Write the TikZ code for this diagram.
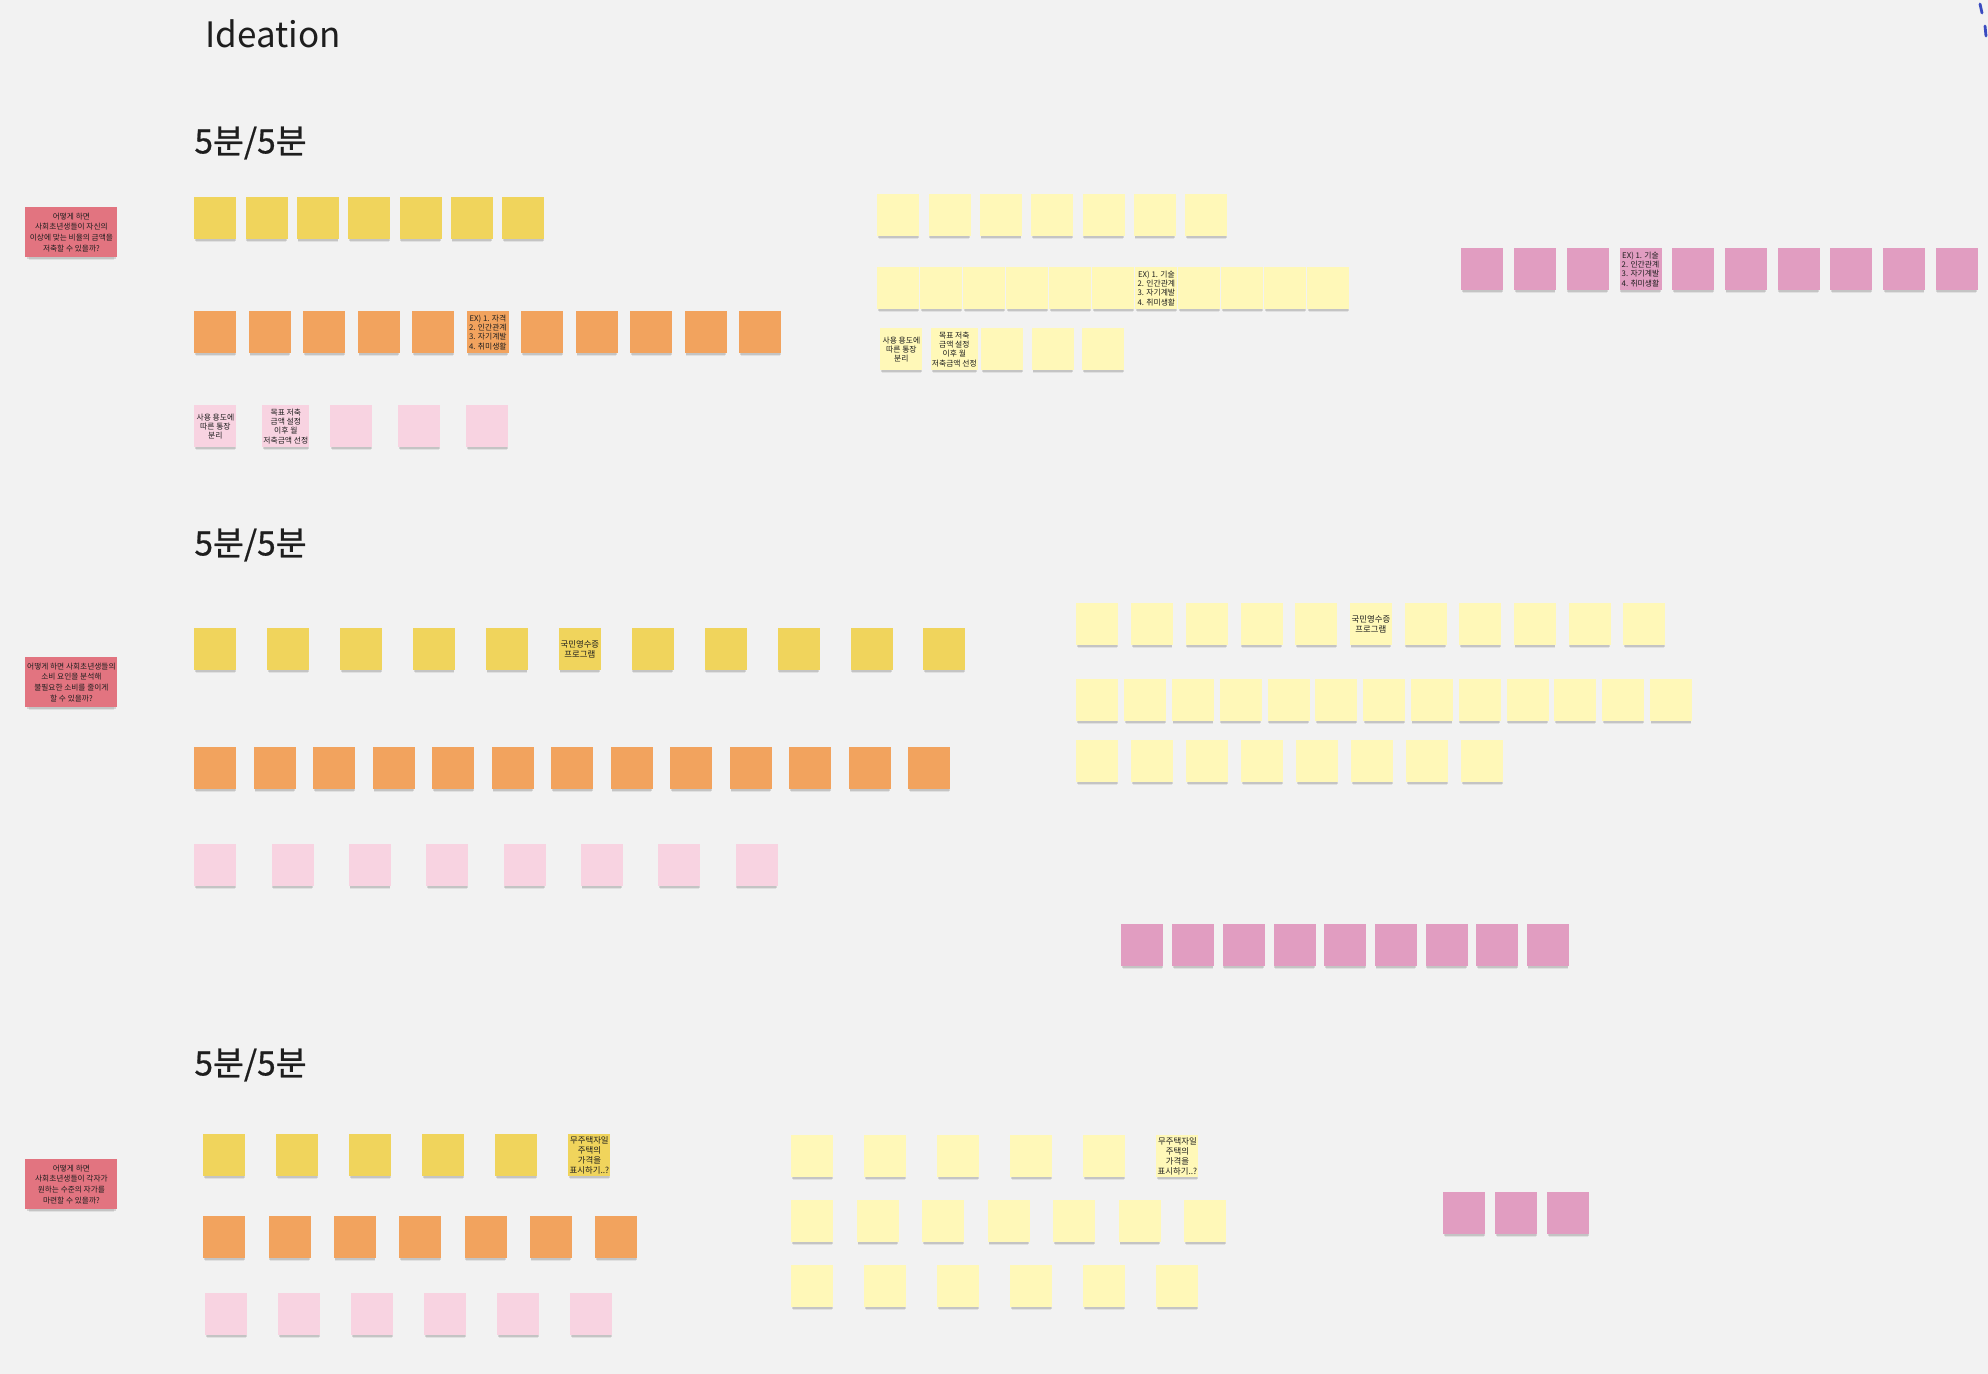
\documentclass[tikz,border=0pt]{standalone}
\usepackage{fontspec}
\setmainfont{Noto Sans CJK KR}
\newfontfamily\headfont[FakeBold=0.6]{Noto Sans CJK KR}
\usetikzlibrary{shadows}
\definecolor{board}{HTML}{F2F2F2}
\definecolor{pen}{HTML}{1E1E1E}
\definecolor{ylw}{HTML}{F0D45C}
\definecolor{orng}{HTML}{F2A35E}
\definecolor{pnkl}{HTML}{F8D3E1}
\definecolor{ylwl}{HTML}{FFF8B8}
\definecolor{rose}{HTML}{E27480}
\definecolor{mauve}{HTML}{E19DC1}
\definecolor{cursorb}{HTML}{3A4BC0}
\tikzset{pad/.style={anchor=north west, minimum width=21pt, minimum height=21pt, inner sep=0.5pt, align=center, text=pen,
    font=\fontsize{3.9}{4.6}\selectfont,
    drop shadow={shadow xshift=0pt, shadow yshift=-2.2pt, shadow scale=0.93, opacity=0.07, fill=black},
    drop shadow={shadow xshift=0pt, shadow yshift=-1.2pt, shadow scale=0.97, opacity=0.12, fill=black}},
  qpad/.style={pad, minimum width=46pt, minimum height=25pt, fill=rose, font=\fontsize{3.85}{5.3}\selectfont},
  head/.style={anchor=west, inner sep=0pt, text=pen, font=\headfont\fontsize{16.8}{18}\selectfont}}

\begin{document}
\begin{tikzpicture}[x=0.5pt, y=-0.5pt]
  \fill[board] (0,0) rectangle (1988,1374);
  \useasboundingbox (0,0) rectangle (1988,1374);
  \node[anchor=west, inner sep=0pt, text=pen, font=\fontsize{17.5}{20}\selectfont] (ttl) at (205,34) {Ideation};
  \draw[cursorb, line width=1.4pt, line cap=round] (1980,4)--(1982,13) (1985,26)--(1986,36);
  % 1
  \node[head] (h1) at (194,143) {5분/5분};
  \node[qpad] (q1) at (25,207) {어떻게 하면\\사회초년생들이 자신의\\이상에 맞는 비율의 금액을\\저축할 수 있을까?};
  \foreach \i in {0,...,6}{\node[pad, fill=ylw] (a1y\i) at ({194+51.3*\i},197) {};}
  \foreach \i in {0,...,4,6,7,8,9,10}{\node[pad, fill=orng] (a1o\i) at ({194+54.5*\i},311) {};}
  \node[pad, fill=orng] (a1o5) at ({194+54.5*5},311) {EX) 1. 자격\\2. 인간관계\\3. 자기계발\\4. 취미생활};
  \node[pad, fill=pnkl] (a1p0) at (194,405) {사용 용도에\\따른 통장\\분리};
  \node[pad, fill=pnkl] (a1p1) at (262,405) {목표 저축\\금액 설정\\이후 월\\저축금액 선정};
  \foreach \i in {2,3,4}{\node[pad, fill=pnkl] (a1p\i) at ({194+68*\i},405) {};}
  \foreach \i in {0,...,6}{\node[pad, fill=ylwl] (b1a\i) at ({877+51.3*\i},194) {};}
  \foreach \i in {0,...,5,7,8,9,10}{\node[pad, fill=ylwl] (b1b\i) at ({877+43*\i},267) {};}
  \node[pad, fill=ylwl] (b1b6) at ({877+43*6},267) {EX) 1. 기술\\2. 인간관계\\3. 자기계발\\4. 취미생활};
  \node[pad, fill=ylwl] (b1c0) at (880,328) {사용 용도에\\따른 통장\\분리};
  \node[pad, fill=ylwl] (b1c1) at (930.5,328) {목표 저축\\금액 설정\\이후 월\\저축금액 선정};
  \foreach \i in {2,3,4}{\node[pad, fill=ylwl] (b1c\i) at ({880+50.5*\i},328) {};}
  \foreach \i in {0,1,2,4,5,...,9}{\node[pad, fill=mauve] (c1m\i) at ({1461+52.7*\i},248) {};}
  \node[pad, fill=mauve] (c1m3) at ({1461+52.7*3},248) {EX) 1. 기술\\2. 인간관계\\3. 자기계발\\4. 취미생활};
  % 2
  \node[head] (h2) at (194,545) {5분/5분};
  \node[qpad] (q2) at (25,657) {어떻게 하면 사회초년생들의\\소비 요인을 분석해\\불필요한 소비를 줄이게\\할 수 있을까?};
  \foreach \i in {0,...,4,6,7,...,10}{\node[pad, fill=ylw] (a2y\i) at ({194+72.9*\i},628) {};}
  \node[pad, fill=ylw, font=\fontsize{4.2}{5}\selectfont] (a2y5) at ({194+72.9*5},628) {국민영수증\\프로그램};
  \foreach \i in {0,...,12}{\node[pad, fill=orng] (a2o\i) at ({194+59.5*\i},747) {};}
  \foreach \i in {0,...,7}{\node[pad, fill=pnkl] (a2p\i) at ({194+77.3*\i},844) {};}
  \foreach \i in {0,...,4,6,7,...,10}{\node[pad, fill=ylwl] (b2a\i) at ({1076+54.7*\i},603) {};}
  \node[pad, fill=ylwl, font=\fontsize{4.2}{5}\selectfont] (b2a5) at ({1076+54.7*5},603) {국민영수증\\프로그램};
  \foreach \i in {0,...,12}{\node[pad, fill=ylwl] (b2b\i) at ({1076+47.8*\i},679) {};}
  \foreach \i in {0,...,7}{\node[pad, fill=ylwl] (b2c\i) at ({1076+55*\i},740) {};}
  \foreach \i in {0,...,8}{\node[pad, fill=mauve] (c2m\i) at ({1121+50.7*\i},924) {};}
  % 3
  \node[head] (h3) at (194,1065) {5분/5분};
  \node[qpad] (q3) at (25,1159) {어떻게 하면\\사회초년생들이 각자가\\원하는 수준의 자가를\\마련할 수 있을까?};
  \foreach \i in {0,...,4}{\node[pad, fill=ylw] (a3y\i) at ({203+73*\i},1134) {};}
  \node[pad, fill=ylw, font=\fontsize{4.2}{5}\selectfont] (a3y5) at ({203+73*5},1134) {무주택자일\\주택의\\가격을\\표시하기..?};
  \foreach \i in {0,...,6}{\node[pad, fill=orng] (a3o\i) at ({203+65.3*\i},1216) {};}
  \foreach \i in {0,...,5}{\node[pad, fill=pnkl] (a3p\i) at ({205+73*\i},1293) {};}
  \foreach \i in {0,...,4}{\node[pad, fill=ylwl] (b3a\i) at ({791+73*\i},1135) {};}
  \node[pad, fill=ylwl, font=\fontsize{4.2}{5}\selectfont] (b3a5) at ({791+73*5},1135) {무주택자일\\주택의\\가격을\\표시하기..?};
  \foreach \i in {0,...,6}{\node[pad, fill=ylwl] (b3b\i) at ({791+65.5*\i},1200) {};}
  \foreach \i in {0,...,5}{\node[pad, fill=ylwl] (b3c\i) at ({791+73*\i},1265) {};}
  \foreach \i in {0,1,2}{\node[pad, fill=mauve] (c3m\i) at ({1443+52*\i},1192) {};}
\end{tikzpicture}
\end{document}
